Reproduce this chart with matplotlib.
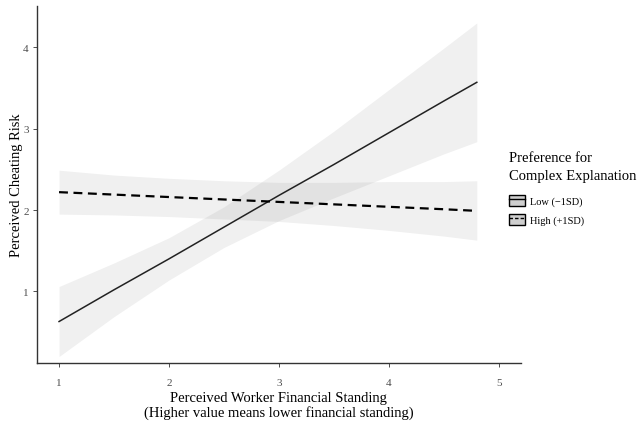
import numpy as np
import matplotlib.pyplot as plt
from matplotlib.patches import Patch
from matplotlib.lines import Line2D

plt.rcParams['font.family'] = ['Liberation Serif', 'DejaVu Serif']

# predicted values and confidence band at each x
x = [1, 1.5, 2, 2.5, 3, 3.5, 4, 4.5, 4.8]

low_fit = [0.63, 1.02, 1.40, 1.79, 2.18, 2.56, 2.95, 3.34, 3.57]
low_upper = [1.06, 1.35, 1.66, 2.04, 2.49, 2.97, 3.48, 3.99, 4.30]
low_lower = [0.20, 0.69, 1.14, 1.54, 1.87, 2.15, 2.42, 2.69, 2.84]

high_fit = [2.22, 2.19, 2.16, 2.13, 2.10, 2.07, 2.04, 2.01, 1.99]
high_upper = [2.49, 2.43, 2.39, 2.36, 2.34, 2.34, 2.35, 2.35, 2.36]
high_lower = [1.95, 1.94, 1.92, 1.89, 1.86, 1.81, 1.75, 1.68, 1.63]

group_labels = ['Low (\u22121SD)', 'High (+1SD)']
x_ticks = [1, 2, 3, 4, 5]
y_ticks = [1, 2, 3, 4]

fig = plt.figure(figsize=(6.39, 4.27), dpi=100)
ax = fig.add_axes([0.058, 0.1475, 0.757, 0.8365])

band = dict(color='#808080', alpha=0.118, linewidth=0)
ax.fill_between(x, low_lower, low_upper, **band)
ax.fill_between(x, high_lower, high_upper, **band)
ax.plot(x, low_fit, color='#222222', lw=1.1, ls='-')
ax.plot(x, high_fit, color='black', lw=1.6, ls=(0, (4, 2.5)))

ax.set_xlim(0.8, 5.2)
ax.set_ylim(0.12, 4.51)
ax.set_xticks(x_ticks)
ax.set_yticks(y_ticks)
ax.tick_params(colors='#333333', labelsize=8, length=3, width=0.6,
               labelcolor='#4d4d4d')
ax.tick_params(axis='x', pad=8)
ax.tick_params(axis='y', pad=3)
for side in ['top', 'right']:
    ax.spines[side].set_visible(False)
for side in ['left', 'bottom']:
    ax.spines[side].set_color('#333333')
    ax.spines[side].set_linewidth(1.0)

ax.set_xlabel('Perceived Worker Financial Standing\n(Higher value means lower financial standing)',
              fontsize=10.5, labelpad=3, linespacing=1.1)
ax.set_ylabel('Perceived Cheating Risk', fontsize=10.5, labelpad=0)

box = dict(facecolor='#cfcfcf', edgecolor='black', linewidth=1.0)
handles = [(Patch(**box), Line2D([], [], color='black', lw=1.0)),
           (Patch(**box), Line2D([], [], color='black', lw=1.0, ls=(0, (2.5, 1.5))))]
leg = fig.legend(handles, group_labels, loc='center left',
                 bbox_to_anchor=(0.782, 0.557), frameon=False,
                 title='Preference for\nComplex Explanation',
                 title_fontsize=10.5, fontsize=7.5, alignment='left',
                 handlelength=1.5, handleheight=1.25, handletextpad=0.5,
                 labelspacing=0.75)
leg.get_title().set_linespacing(1.5)
leg._legend_box.sep = 9

fig.savefig('out.png', dpi=100)
